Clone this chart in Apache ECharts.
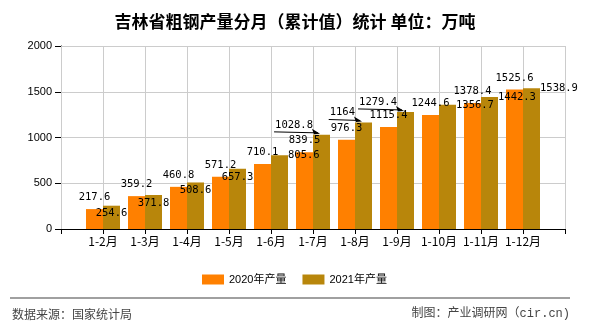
<!DOCTYPE html>
<html><head><meta charset="utf-8">
<script src="https://cdn.jsdelivr.net/npm/echarts/dist/echarts.min.js"></script>
<style>html,body{margin:0;padding:0;background:#fff}#c{width:590px;height:330px}</style>
</head><body><div id="c"></div>
<script>
// ---- data ----
const categories = ['1-2月','1-3月','1-4月','1-5月','1-6月','1-7月','1-8月','1-9月','1-10月','1-11月','1-12月'];
const output2020 = [217.6, 359.2, 460.8, 571.2, 710.1, 839.5, 976.3, 1115.4, 1244.6, 1378.4, 1525.6];
const output2021 = [254.6, 371.8, 508.6, 657.3, 805.6, 1028.8, 1164, 1279.4, 1356.7, 1442.3, 1538.9];
const seriesNames = ['2020年产量', '2021年产量'];
const titleText = '吉林省粗钢产量分月（累计值）统计 单位：万吨';
const sourceText = '数据来源：国家统计局';
const makerText = '制图：产业调研网（cir.cn)';
const yMin = 0, yMax = 2000, yStep = 500;

// ---- label placement (styling) ----
const labelFontFamily = 'DejaVu Sans Mono';
const labelFontSize = 10.5;
const goldLabelMode = {4:'right', 5:'leader', 6:'leader', 7:'leader', 8:'right', 9:'right', 10:'right'};
const leaderIdx = Object.keys(goldLabelMode).filter(k => goldLabelMode[k] === 'leader').map(Number);

const measureCtx = document.createElement('canvas').getContext('2d');
measureCtx.font = labelFontSize + 'px "' + labelFontFamily + '"';
const textWidth = s => measureCtx.measureText(String(s)).width;

const xData = [''].concat(categories, ['']);
const pad = a => [null].concat(a, [null]);

const chart = echarts.init(document.getElementById('c'), null, {renderer: 'canvas'});
chart.setOption({
  animation: false,
  backgroundColor: '#fff',
  title: {
    text: titleText, left: 'center', top: 8,
    textStyle: {fontSize: 17, fontWeight: 'bold', color: '#000', fontFamily: 'Noto Sans CJK SC'}
  },
  legend: {
    data: seriesNames, left: 197, top: 269, itemWidth: 22, itemHeight: 10, itemGap: 16,
    icon: 'rect',
    textStyle: {fontSize: 11, color: '#000', fontFamily: 'Liberation Sans, Noto Sans CJK SC'}
  },
  grid: {left: 61, right: 25, top: 46, bottom: 101, containLabel: false},
  xAxis: {
    type: 'category', data: xData, boundaryGap: false, z: 6,
    axisLine: {lineStyle: {color: '#000', width: 1}},
    axisTick: {show: true, interval: 0, length: 5, lineStyle: {color: '#000'}},
    axisLabel: {interval: 0, margin: 6, color: '#000', fontSize: 12, fontFamily: 'Noto Sans CJK SC'},
    splitLine: {show: false}
  },
  yAxis: {
    type: 'value', min: yMin, max: yMax, interval: yStep, z: 0,
    axisLine: {show: true, lineStyle: {color: '#000', width: 1}},
    axisTick: {show: true, length: 6, lineStyle: {color: '#000'}},
    axisLabel: {margin: 9, color: '#000', fontSize: 11, fontFamily: 'Liberation Sans', formatter: v => String(v)},
    splitLine: {show: true, lineStyle: {color: '#cccccc', width: 1}}
  },
  series: [
    {
      // vertical grid lines at every category position, drawn beneath the bars
      name: 'vgrid', type: 'custom', silent: true, z: 1,
      data: xData.map((c, i) => [i]),
      renderItem: function (params, api) {
        const x = Math.round(api.coord([api.value(0), yMin])[0]) + 0.5;
        const cs = params.coordSys;
        return {type: 'line', shape: {x1: x, y1: cs.y, x2: x, y2: cs.y + cs.height},
                style: {stroke: '#cccccc', lineWidth: 1}};
      }
    },
    {
      name: seriesNames[0], type: 'bar', data: pad(output2020), z: 5,
      barWidth: 17, barGap: '0%',
      itemStyle: {color: '#FF8000'},
      label: {show: true, position: 'top', distance: 6, color: '#000', fontFamily: labelFontFamily, fontSize: labelFontSize}
    },
    {
      name: seriesNames[1], type: 'bar', data: pad(output2021), z: 5,
      barWidth: 17, barGap: '0%',
      itemStyle: {color: '#B8860B'},
      label: {show: true, position: 'insideTop', color: '#000', fontFamily: labelFontFamily, fontSize: labelFontSize},
      labelLayout: function (p) {
        const k = p.dataIndex - 1;
        const mode = goldLabelMode[k];
        const r = p.rect;
        if (mode === 'right') {
          return {x: r.x + r.width, y: r.y, align: 'left', verticalAlign: 'middle'};
        }
        if (mode === 'leader') {
          return {x: r.x, y: r.y - 10, align: 'right', verticalAlign: 'middle'};
        }
        return {x: r.x + r.width / 2, y: r.y + 8, align: 'center', verticalAlign: 'middle'};
      }
    },
    {
      name: 'leaders', type: 'custom', silent: true, z: 10,
      data: leaderIdx.map(i => [i + 1, output2021[i]]),
      renderItem: function (params, api) {
        const v = api.value(1);
        const p = api.coord([api.value(0), v]);
        const w = textWidth(v);
        const tx = p[0] + 7, ty = p[1] - 1;
        return {
          type: 'group',
          children: [
            {type: 'line', shape: {x1: p[0] - w - 1, y1: p[1] - 3, x2: tx - 2, y2: ty - 1},
             style: {stroke: '#000', lineWidth: 1}},
            {type: 'polygon', shape: {points: [[tx, ty], [tx - 8, ty - 5], [tx - 6, ty + 0.5]]},
             style: {fill: '#000'}}
          ]
        };
      }
    }
  ],
  graphic: [
    {type: 'line', shape: {x1: 10, y1: 298, x2: 570, y2: 298}, style: {stroke: '#808080', lineWidth: 1.5}},
    {type: 'text', left: 12, top: 308, style: {text: sourceText, fill: '#444', font: '12px "Noto Sans CJK SC"'}},
    {type: 'text', right: 20, top: 308, style: {text: makerText, fill: '#444', font: '12px "Liberation Mono", "Noto Sans CJK SC"'}}
  ]
});
</script>
</body></html>
